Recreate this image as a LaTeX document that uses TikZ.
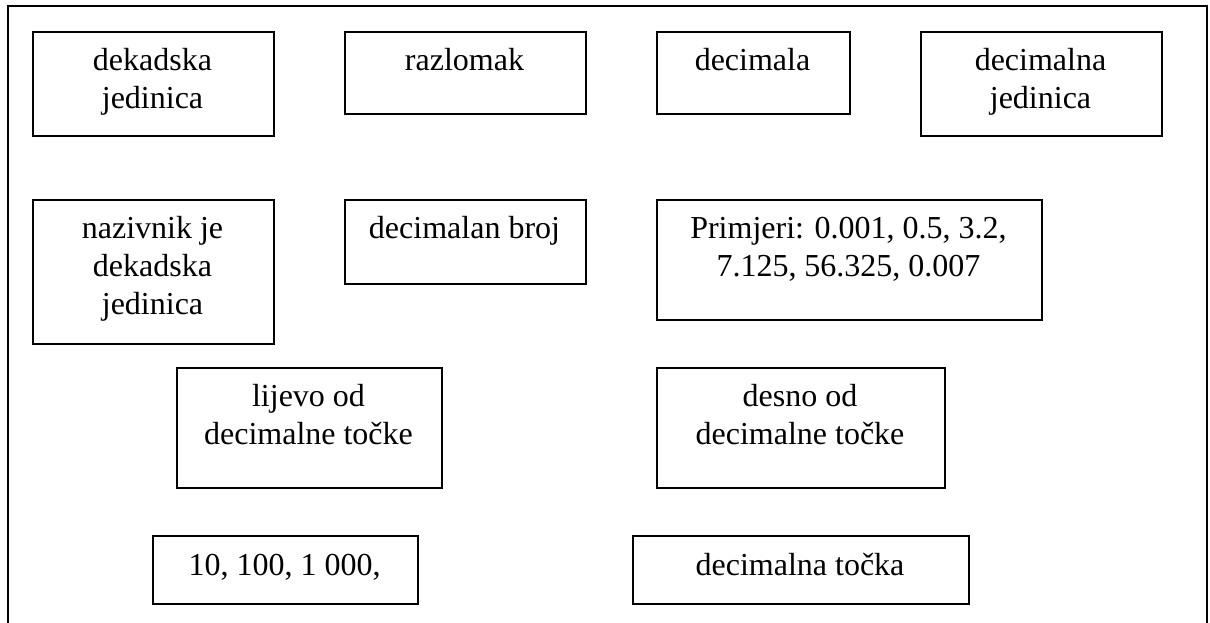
\documentclass[tikz,border=0pt]{standalone}
\usepackage{fontspec}
\setmainfont{Liberation Serif}
\begin{document}
\begin{tikzpicture}[x=1pt,y=-1pt,
  box/.style={draw, line width=1.8pt, inner sep=0pt, anchor=north west},
  txt/.style={anchor=base, inner sep=0pt, font=\fontsize{32}{37.8}\selectfont},
  frame/.style={draw, line width=1.6pt}]
\useasboundingbox (0,0) rectangle (1210,623);
\coordinate (f1) at (8,640);
\coordinate (f2) at (8,6);
\coordinate (f3) at (1207,6);
\coordinate (f4) at (1207,640);
\draw[frame] (f1) -- (f2) -- (f3) -- (f4);
% row 1
\node[box, minimum width=241pt, minimum height=104pt] (b1) at (32,31) {};
\node[txt] (t1) at (152.5,70.8) {\parbox[t]{300pt}{\centering dekadska\\jedinica}};
\node[box, minimum width=241pt, minimum height=82pt] (b2) at (344,31) {};
\node[txt] (t2) at (464.5,70.8) {razlomak};
\node[box, minimum width=193pt, minimum height=82pt] (b3) at (656,31) {};
\node[txt] (t3) at (752.5,70.8) {decimala};
\node[box, minimum width=241pt, minimum height=104pt] (b4) at (920,31) {};
\node[txt] (t4) at (1040.5,70.8) {\parbox[t]{300pt}{\centering decimalna\\jedinica}};
% row 2
\node[box, minimum width=241pt, minimum height=144pt] (b5) at (32,199) {};
\node[txt] (t5) at (152.5,238.8) {\parbox[t]{300pt}{\centering nazivnik je\\dekadska\\jedinica}};
\node[box, minimum width=241pt, minimum height=84pt] (b6) at (344,199) {};
\node[txt] (t6) at (464.5,238.8) {decimalan broj};
\node[box, minimum width=385pt, minimum height=120pt] (b7) at (656,199) {};
\node[txt] (t7) at (848.5,238.8) {\parbox[t]{400pt}{\centering Primjeri: 0.001, 0.5, 3.2,\\7.125, 56.325, 0.007}};
% row 3
\node[box, minimum width=265pt, minimum height=120pt] (b8) at (176,367) {};
\node[txt] (t8) at (308.5,406.8) {\parbox[t]{300pt}{\centering lijevo od\\decimalne točke}};
\node[box, minimum width=288pt, minimum height=120pt] (b9) at (656,367) {};
\node[txt] (t9) at (800,406.8) {\parbox[t]{300pt}{\centering desno od\\decimalne točke}};
% row 4
\node[box, minimum width=265pt, minimum height=68pt] (b10) at (152,535) {};
\node[txt] (t10) at (284.5,575.8) {10, 100, 1 000,};
\node[box, minimum width=336pt, minimum height=68pt] (b11) at (632,535) {};
\node[txt] (t11) at (800,575.8) {decimalna točka};
\end{tikzpicture}
\end{document}
